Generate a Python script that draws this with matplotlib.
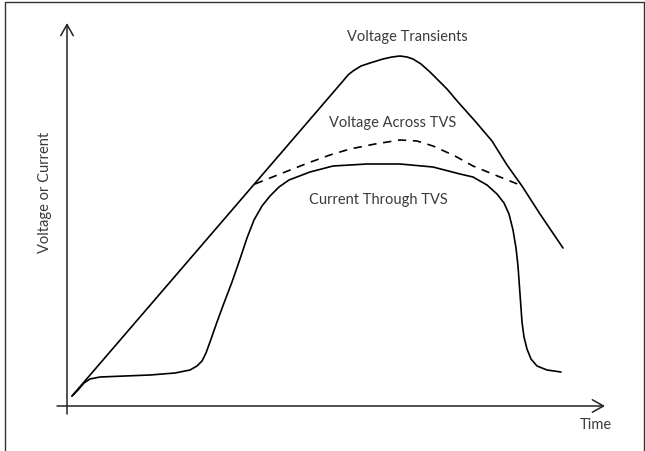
import numpy as np
import matplotlib
matplotlib.use("Agg")
import matplotlib.pyplot as plt
from matplotlib.lines import Line2D

# curves (time, amplitude), arbitrary units
transient_t = [5, 276, 281, 286, 294, 303, 316, 325, 333, 340, 346, 354, 363, 380, 391, 408, 425, 440, 455, 473, 496]
transient_v = [10, 325, 331, 335, 340, 343, 347, 349, 350, 349, 347, 342, 334, 317, 304, 285, 265, 241, 220, 192, 158]

clamp_t = [188, 213, 241, 263, 283, 308, 333, 350, 366, 388, 406, 433, 453]
clamp_v = [222, 232, 243, 251, 257, 262, 266, 265, 260, 250, 240, 229, 221]

current_t = [5, 11, 17, 23, 33, 58, 83, 108, 123, 130, 135, 139, 143, 150, 157, 165, 173, 180, 187, 195,
             203, 212, 222, 243, 266, 300, 333, 366, 393, 406, 420, 430, 437, 442, 446, 449, 451, 453, 455,
             457, 460, 464, 470, 480, 494]
current_v = [10, 16, 23, 27, 29, 30, 31, 33, 36, 40, 45, 53, 64, 84, 103, 124, 147, 168, 186, 200,
             210, 219, 226, 234, 240, 242, 242, 239, 232, 229, 221, 212, 203, 192, 176, 158, 140, 112, 84,
             69, 57, 47, 40, 36, 34]

labels = ["Voltage Transients", "Voltage Across TVS", "Current Through TVS"]
label_pos = [(340, 370), (326, 284), (311, 207)]

W, H = 645, 452
fig = plt.figure(figsize=(6.45, 4.52), dpi=100)
ax = fig.add_axes([67 / W, (H - 407) / H, (605 - 67) / W, (407 - 24) / H])
ax.set_xlim(0, 538)
ax.set_ylim(0, 383)
ax.axis("off")

txt_col = "#3a3a3a"
font = "Lato"
fs = 10.5

# axes drawn as arrows
arr = dict(arrowstyle="->,head_length=0.8,head_width=0.45", color="#222222", lw=1.1,
           shrinkA=0, shrinkB=0)
ax.annotate("", xy=(538, 0), xytext=(-10, 0), arrowprops=arr, annotation_clip=False)
ax.annotate("", xy=(0, 383), xytext=(0, -8), arrowprops=arr, annotation_clip=False)

line_kw = dict(color="black", lw=1.2, clip_on=False, solid_joinstyle="round",
               solid_capstyle="round")
ax.plot(transient_t, transient_v, **line_kw)
ax.plot(clamp_t, clamp_v, color="black", lw=1.2, ls=(0, (5, 4)), clip_on=False)
ax.plot(current_t, current_v, **line_kw)

for lab, (x, y) in zip(labels, label_pos):
    ax.text(x, y, lab, ha="center", va="center", fontsize=fs, color=txt_col, family=font)

ax.text(529, -18, "Time", ha="center", va="center", fontsize=fs, color=txt_col,
        family=font, clip_on=False)
ax.text(-22, 215, "Voltage or Current", ha="center", va="center", rotation=90,
        fontsize=fs, color=txt_col, family=font, clip_on=False)

# frame around the picture (left, top, right)
x0, x1, yt = 5 / W, 644 / W, 1 - 3 / H
fig.add_artist(Line2D([x0, x0, x1, x1], [0, yt, yt, 0], transform=fig.transFigure,
                      color="#333333", lw=1.0))

fig.savefig("out.png", dpi=100)
